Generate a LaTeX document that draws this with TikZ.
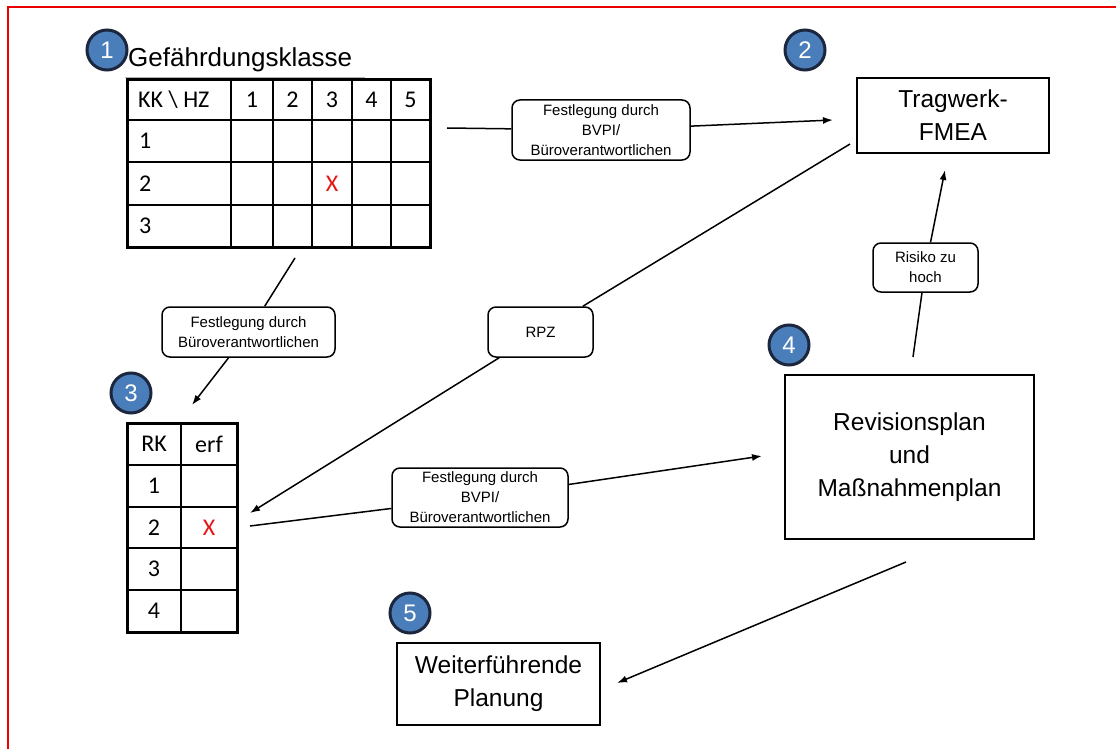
\documentclass[tikz,border=0pt]{standalone}
\usepackage{fontspec}
\setmainfont{Liberation Sans}
\newfontfamily\calfont{Carlito}
\usetikzlibrary{arrows.meta}
\definecolor{circblue}{RGB}{74,126,187}
\definecolor{circline}{RGB}{28,38,60}
\definecolor{xred}{RGB}{230,20,20}
\definecolor{framered}{RGB}{235,0,0}
\begin{document}
\begin{tikzpicture}[x=1pt,y=-1pt,
  conn/.style={line width=1.5pt},
  connarr/.style={line width=1.5pt, -{Latex[length=10pt,width=7pt]}},
  lbl/.style={draw, line width=1.5pt, rounded corners=8pt, fill=white, align=center,
    font=\fontsize{15}{20}\selectfont, inner sep=0pt},
  bigbox/.style={draw, line width=2pt, align=center, inner sep=0pt,
    font=\fontsize{24.5}{33}\selectfont},
  num/.style={circle, draw=circline, line width=3pt, fill=circblue, text=white,
    minimum size=40pt, inner sep=0pt, font=\fontsize{24}{24}\selectfont},
  cell/.style={font=\calfont\fontsize{24}{26}\selectfont, inner sep=0pt},
  xcell/.style={cell, text=xred},
  grid/.style={line width=2.5pt},
  outer/.style={line width=3pt},
]
\useasboundingbox (0,0) rectangle (1116,749);
\fill[white] (0,0) rectangle (1116,749);
\draw[framered, line width=2.5pt] (8,749) -- (8,7) -- (1116,7);

% ---------- Table 1 ----------
\node[inner sep=0, minimum width=303pt, minimum height=167pt] (tab1) at (278.5,163.5) {};
\foreach \x in {231,273,312,352,391} \draw[grid] (\x,80) -- (\x,247);
\foreach \y in {120,162,205} \draw[grid] (127,\y) -- (430,\y);
\draw[outer] (127,80) rectangle (430,247);
\draw[line width=1pt, gray!60] (125,78) -- (365,78);
\node[cell, anchor=west] at (138,100) {KK \textbackslash\ HZ};
\node[cell] at (252,100) {1};
\node[cell] at (292.5,100) {2};
\node[cell] at (332,100) {3};
\node[cell] at (371.5,100) {4};
\node[cell] at (410.5,100) {5};
\node[cell, anchor=west] at (139,141) {1};
\node[cell, anchor=west] at (139,183.5) {2};
\node[cell, anchor=west] at (139,226) {3};
\node[xcell] at (332,183.5) {X};

\node[num] (c1) at (107,50) {1};
\node[anchor=base west, inner sep=0pt, font=\fontsize{26}{26}\selectfont] (title) at (128,67) {Gefährdungsklasse};

% ---------- Table 3 ----------
\node[inner sep=0, minimum width=110pt, minimum height=209pt] (tab3) at (182,527.5) {};
\draw[grid] (181,423) -- (181,632);
\foreach \y in {465,507,548,590} \draw[grid] (127,\y) -- (237,\y);
\draw[outer] (127,423) rectangle (237,632);
\node[cell] at (154,444) {RK};
\node[cell] at (209,444) {erf};
\node[cell] at (154,486) {1};
\node[cell] at (154,527.5) {2};
\node[cell] at (154,569) {3};
\node[cell] at (154,611) {4};
\node[xcell] at (209,527.5) {X};
\node[num] (c3) at (131,393) {3};

% ---------- Boxes ----------
\node[bigbox, minimum width=192pt, minimum height=75pt] (fmea) at (953,115.5) {Tragwerk-\\FMEA};
\node[num] (c2) at (805,50) {2};
\node[bigbox, minimum width=249pt, minimum height=164pt] (rev) at (909.5,457) {Revisionsplan\\und\\Maßnahmenplan};
\node[num] (c4) at (789,345) {4};
\node[bigbox, minimum width=203pt, minimum height=82pt] (plan) at (498.5,684) {Weiterführende\\Planung};
\node[num] (c5) at (410,613) {5};

% ---------- Labels ----------
\node[lbl, minimum width=178pt, minimum height=60pt] (l1) at (601,130) {Festlegung durch\\BVPI/\\Büroverantwortlichen};
\node[lbl, minimum width=173pt, minimum height=50pt] (l2) at (248.5,332) {Festlegung durch\\Büroverantwortlichen};
\node[lbl, minimum width=105pt, minimum height=50pt] (rpz) at (540.5,332) {RPZ};
\node[lbl, minimum width=176pt, minimum height=59pt] (l4) at (480,497.5) {Festlegung durch\\BVPI/\\Büroverantwortlichen};
\node[lbl, minimum width=105pt, minimum height=49pt] (risk) at (925.5,267.5) {Risiko zu\\hoch};

% ---------- Connector ends ----------
\coordinate (s1) at (447,128);  \coordinate (e1) at (833,120);
\coordinate (s2) at (295,258);  \coordinate (e2) at (192,405);
\coordinate (s3) at (850,144);  \coordinate (e3) at (250,513);
\coordinate (s4) at (250,526);  \coordinate (e4) at (762,456);
\coordinate (s5) at (913,357);  \coordinate (e5) at (945,170);
\coordinate (s6) at (906,562);  \coordinate (e6) at (617,683);

\draw[conn] (s1) -- (l1);  \draw[connarr] (l1) -- (e1);
\draw[conn] (s2) -- (l2);  \draw[connarr] (l2) -- (e2);
\draw[conn] (s3) -- (rpz); \draw[connarr] (rpz) -- (e3);
\draw[conn] (s4) -- (l4);  \draw[connarr] (l4) -- (e4);
\draw[conn] (s5) -- (risk); \draw[connarr] (risk) -- (e5);
\draw[connarr] (s6) -- (e6);
\end{tikzpicture}
\end{document}
